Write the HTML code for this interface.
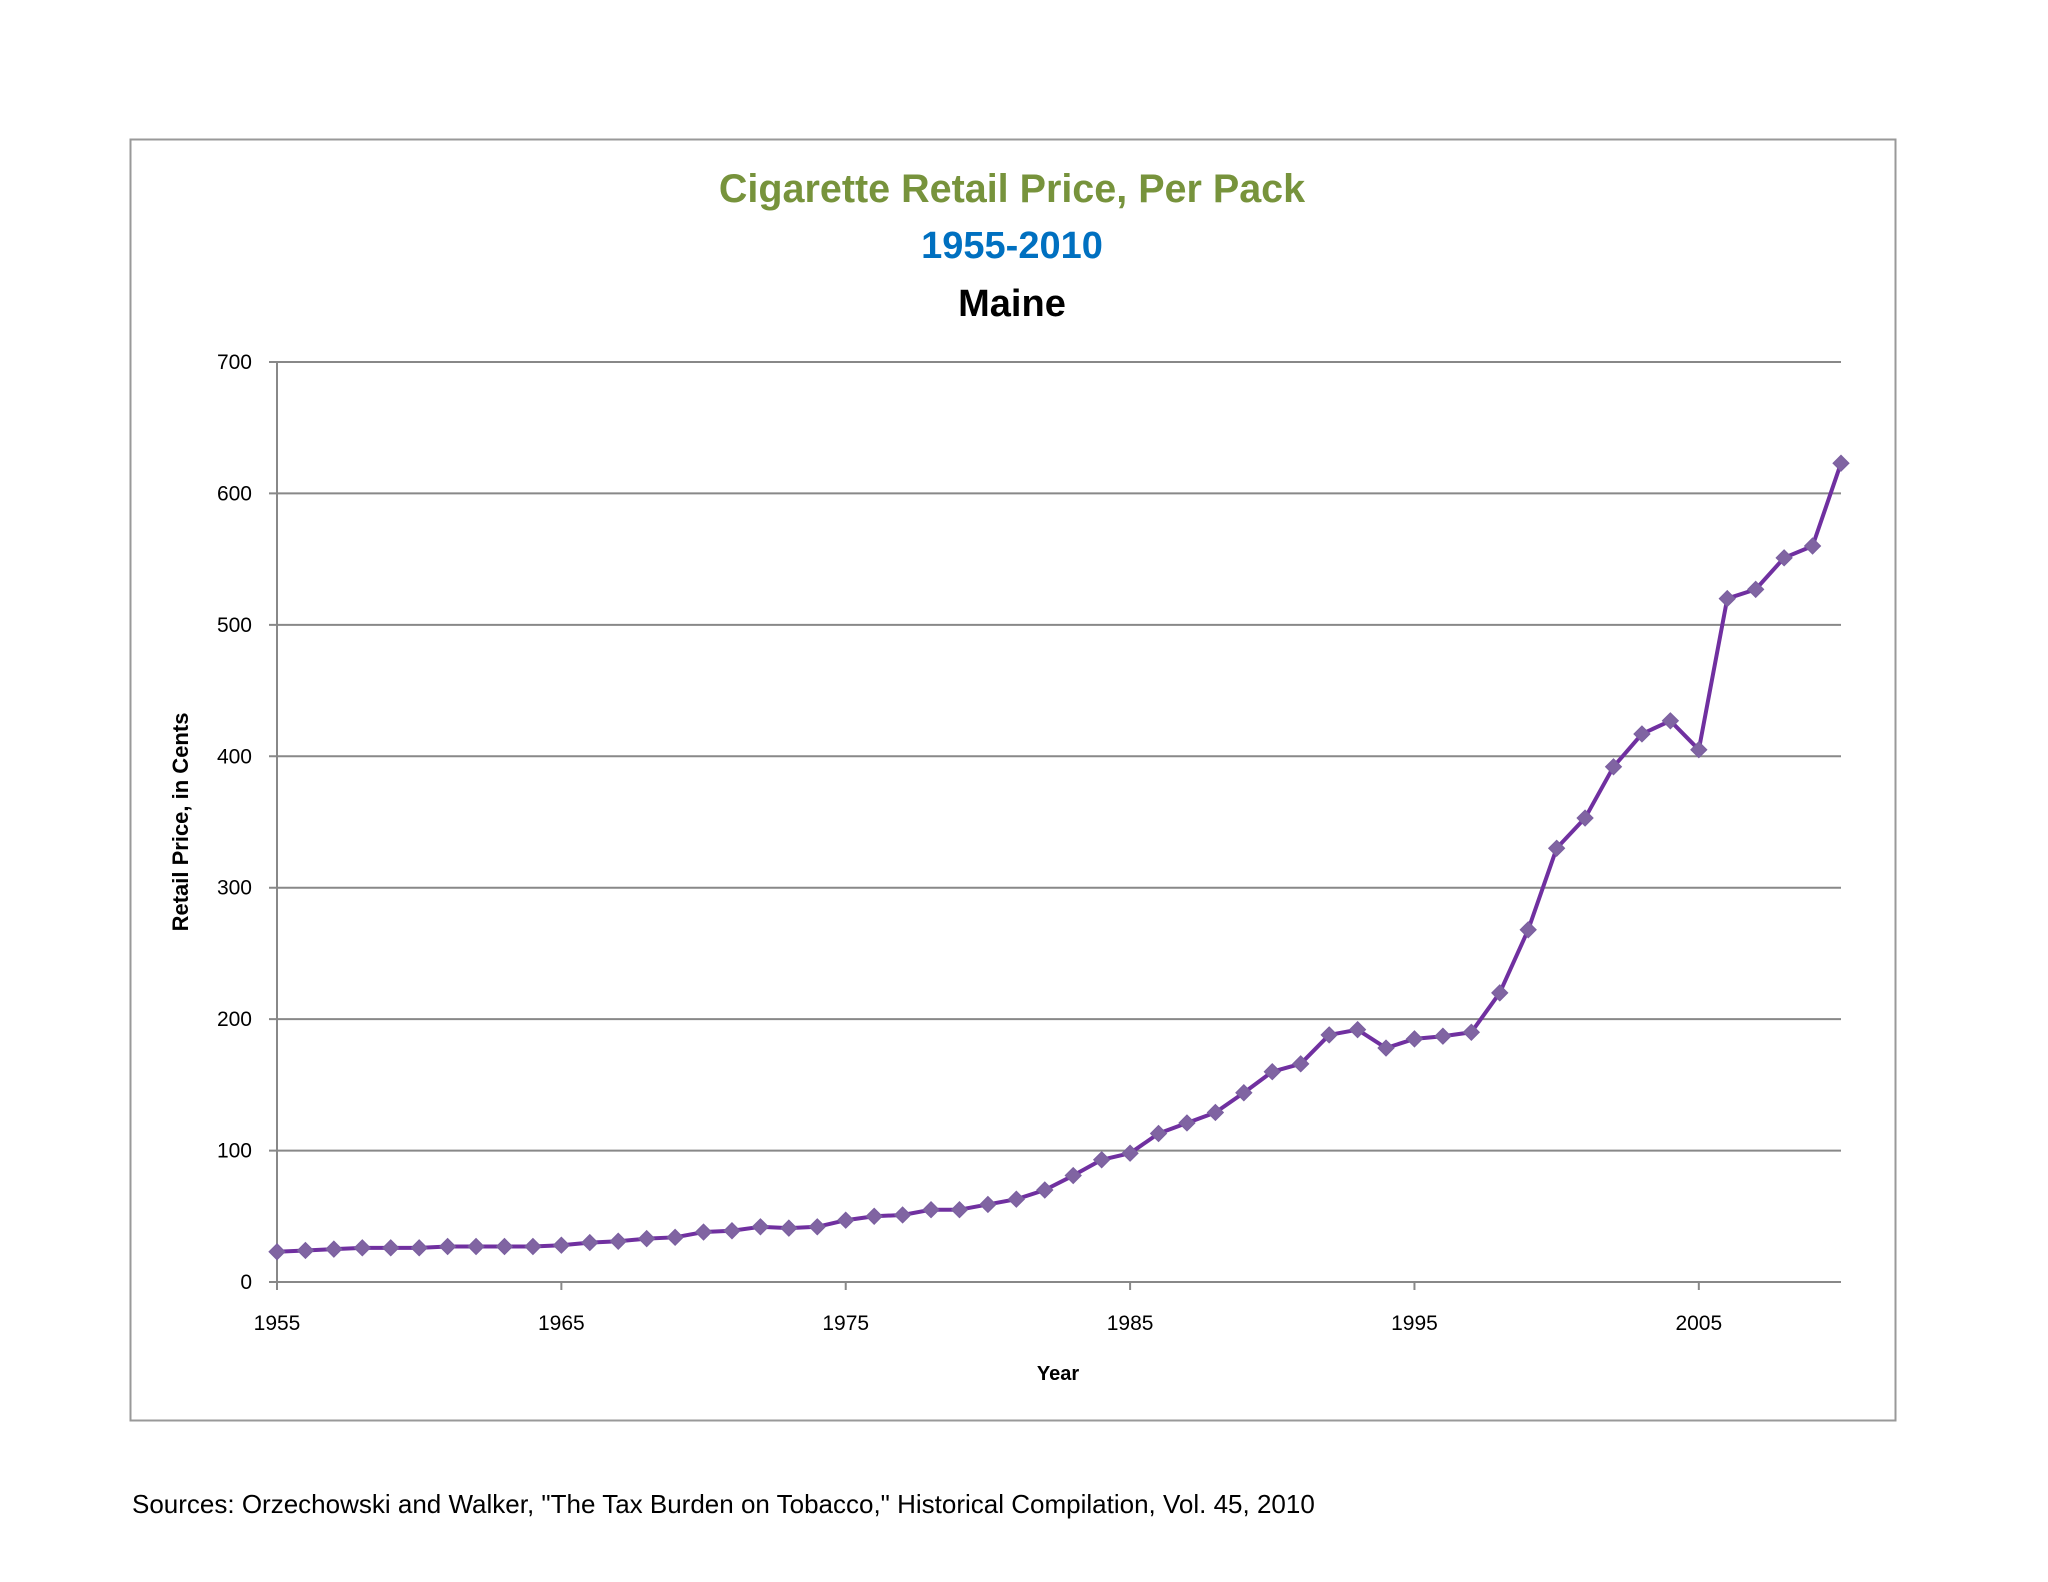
<!DOCTYPE html>
<html><head><meta charset="utf-8"><style>
html,body{margin:0;padding:0;background:#fff;}
svg{display:block;font-family:"Liberation Sans",sans-serif;}
</style></head><body>
<svg id="chart" width="2048" height="1582" viewBox="0 0 2048 1582">
<rect x="130.5" y="139.5" width="1765" height="1281" fill="#fff" stroke="#999" stroke-width="2"/>
<text x="1012" y="202" text-anchor="middle" font-size="39.5" font-weight="bold" fill="#77933c">Cigarette Retail Price, Per Pack</text>
<text x="1012" y="258" text-anchor="middle" font-size="38" font-weight="bold" fill="#0070c0">1955-2010</text>
<text x="1012" y="316" text-anchor="middle" font-size="38" font-weight="bold" fill="#000">Maine</text>
<g id="grid"></g>
<g id="axes"></g>
<g id="series"></g>
<text transform="translate(188,822) rotate(-90)" text-anchor="middle" font-size="22" font-weight="bold">Retail Price, in Cents</text>
<text x="1058" y="1380" text-anchor="middle" font-size="20" font-weight="bold">Year</text>
<text x="132" y="1513" font-size="26" fill="#000">Sources: Orzechowski and Walker, "The Tax Burden on Tobacco," Historical Compilation, Vol. 45, 2010</text>
</svg>
<script>
const years = [];
for (let y = 1955; y <= 2010; y++) years.push(y);
const prices = [23,24,25,26,26,26,27,27,27,27,28,30,31,33,34,38,39,42,41,42,47,50,51,55,55,59,63,70,81,93,98,113,121,129,144,160,166,188,192,178,185,187,190,220,268,330,353,392,417,427,405,520,527,551,560,623];
const yTicks = [0,100,200,300,400,500,600,700];
const xTickLabels = [1955,1965,1975,1985,1995,2005];

const X0 = 277, X1 = 1841, Y0 = 1282, Y1 = 362;
const xs = yr => X0 + (yr - 1955) * (X1 - X0) / 55;
const ys = v => Y0 - v * (Y0 - Y1) / 700;
const NS = 'http://www.w3.org/2000/svg';
function mk(tag, attrs, parent) {
  const e = document.createElementNS(NS, tag);
  for (const k in attrs) e.setAttribute(k, attrs[k]);
  parent.appendChild(e);
  return e;
}
const grid = document.getElementById('grid');
const axes = document.getElementById('axes');
const series = document.getElementById('series');
yTicks.forEach(t => {
  const l = mk('line', {x1: X0 - 8, x2: X1, y1: ys(t), y2: ys(t), stroke: '#888', 'stroke-width': 2}, grid);
  
  
  const tx = mk('text', {x: 252, y: ys(t) + 7, 'text-anchor': 'end', 'font-size': 21}, axes);
  tx.textContent = t;
  
  
});
const ya = mk('line', {x1: X0, x2: X0, y1: Y1, y2: Y0, stroke: '#888', 'stroke-width': 2}, axes);


xTickLabels.forEach(yr => {
  const tk = mk('line', {x1: xs(yr), x2: xs(yr), y1: Y0, y2: Y0 + 8, stroke: '#888', 'stroke-width': 2}, axes);
  
  
  const tx = mk('text', {x: xs(yr), y: 1330, 'text-anchor': 'middle', 'font-size': 21}, axes);
  tx.textContent = yr;
  
  
});
const pts = years.map((yr, i) => xs(yr) + ',' + ys(prices[i])).join(' ');
const line = mk('polyline', {points: pts, fill: 'none', stroke: '#7030a0', 'stroke-width': 4, 'stroke-linejoin': 'round'}, series);


years.forEach((yr, i) => {
  const cx = xs(yr), cy = ys(prices[i]), r = 8;
  const d = mk('polygon', {points: `${cx},${cy - r} ${cx + r},${cy} ${cx},${cy + r} ${cx - r},${cy}`, fill: '#8064a2', stroke: '#7a5fa0', 'stroke-width': 1}, series);
  
  
});
</script>
</body></html>
